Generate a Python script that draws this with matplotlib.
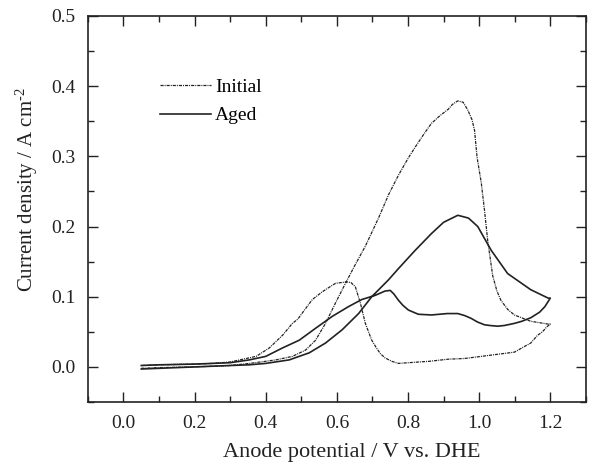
import matplotlib
matplotlib.use("Agg")
import matplotlib.pyplot as plt
from matplotlib.ticker import MultipleLocator

# ---- data ----
init_fwd_x = [0.05, 0.10, 0.20, 0.30, 0.354, 0.40, 0.428, 0.475, 0.512, 0.540, 0.568, 0.596, 0.624,
              0.652, 0.680, 0.717, 0.745, 0.773, 0.800, 0.820, 0.845, 0.866, 0.890, 0.913, 0.925, 0.940,
              0.955, 0.968, 0.980, 0.987, 0.994, 1.006, 1.015, 1.024, 1.038, 1.050, 1.061, 1.080, 1.099,
              1.145, 1.194, 1.20]
init_fwd_y = [-0.002, -0.001, 0.000, 0.002, 0.005, 0.008, 0.010, 0.015, 0.024, 0.038, 0.062, 0.091, 0.119,
              0.146, 0.172, 0.212, 0.245, 0.273, 0.297, 0.313, 0.332, 0.347, 0.358, 0.367, 0.374, 0.379,
              0.377, 0.366, 0.352, 0.337, 0.299, 0.262, 0.223, 0.180, 0.130, 0.108, 0.095, 0.082, 0.074,
              0.065, 0.061, 0.061]
init_rev_x = [1.20, 1.190, 1.178, 1.164, 1.145, 1.127, 1.099, 1.052, 1.006, 0.959, 0.913, 0.860, 0.801,
              0.773, 0.754, 0.735, 0.722, 0.710, 0.698, 0.689, 0.680, 0.666, 0.652, 0.640, 0.629, 0.610,
              0.596, 0.580, 0.559, 0.531, 0.503, 0.490, 0.475, 0.447, 0.410, 0.373, 0.345, 0.30, 0.25,
              0.20, 0.10, 0.05]
init_rev_y = [0.061, 0.057, 0.050, 0.045, 0.034, 0.029, 0.021, 0.018, 0.015, 0.012, 0.011, 0.008, 0.006,
              0.005, 0.008, 0.013, 0.019, 0.028, 0.038, 0.050, 0.062, 0.091, 0.114, 0.120, 0.121, 0.120,
              0.119, 0.114, 0.107, 0.096, 0.077, 0.068, 0.062, 0.045, 0.027, 0.015, 0.012, 0.007, 0.005,
              0.004, 0.003, 0.002]

aged_fwd_x = [0.05, 0.10, 0.20, 0.30, 0.354, 0.40, 0.466, 0.522, 0.568, 0.615, 0.661, 0.698, 0.745,
              0.773, 0.82, 0.866, 0.90, 0.940, 0.970, 0.996, 1.034, 1.080, 1.145, 1.194, 1.20]
aged_fwd_y = [-0.003, -0.002, 0.000, 0.002, 0.003, 0.005, 0.010, 0.020, 0.034, 0.053, 0.076, 0.100, 0.124,
              0.140, 0.166, 0.190, 0.206, 0.216, 0.212, 0.200, 0.166, 0.133, 0.110, 0.098, 0.098]
aged_rev_x = [1.20, 1.185, 1.170, 1.145, 1.120, 1.099, 1.071, 1.052, 1.030, 1.015, 0.995, 0.978, 0.960,
              0.940, 0.910, 0.866, 0.829, 0.801, 0.785, 0.773, 0.760, 0.750, 0.735, 0.708, 0.670, 0.633,
              0.587, 0.540, 0.494, 0.447, 0.40, 0.354, 0.30, 0.20, 0.10, 0.05]
aged_rev_y = [0.098, 0.086, 0.078, 0.070, 0.065, 0.062, 0.059, 0.058, 0.059, 0.060, 0.064, 0.069, 0.073,
              0.076, 0.076, 0.074, 0.075, 0.081, 0.088, 0.095, 0.104, 0.109, 0.108, 0.102, 0.096, 0.086,
              0.072, 0.055, 0.038, 0.027, 0.015, 0.010, 0.006, 0.004, 0.003, 0.002]

series_labels = ["Initial", "Aged"]
xlabel = "Anode potential / V vs. DHE"
ylabel = r"Current density / A cm$^{\text{-2}}$"
xtick_vals = [0.0, 0.2, 0.4, 0.6, 0.8, 1.0, 1.2]
ytick_vals = [0.0, 0.1, 0.2, 0.3, 0.4, 0.5]

plt.rcParams['font.family'] = ['Liberation Serif', 'DejaVu Serif']
plt.rcParams['mathtext.fontset'] = 'custom'
plt.rcParams['mathtext.rm'] = 'Liberation Serif'
plt.rcParams['mathtext.it'] = 'Liberation Serif:italic'

fig = plt.figure(figsize=(5.9, 4.68), dpi=100)
ax = fig.add_axes([0.149, 0.141, 0.844, 0.825])

ax.plot(init_fwd_x + init_rev_x, init_fwd_y + init_rev_y, color='#222222', lw=0.9,
        linestyle=(0, (2.5, 0.8, 0.8, 0.8)), label=series_labels[0])
ax.plot(aged_fwd_x + aged_rev_x, aged_fwd_y + aged_rev_y, color='#222222', lw=1.2,
        linestyle='-', label=series_labels[1])

ax.set_xlim(-0.1, 1.3)
ax.set_ylim(-0.05, 0.5)
ax.xaxis.set_minor_locator(MultipleLocator(0.1))
ax.yaxis.set_minor_locator(MultipleLocator(0.05))
ax.set_xticks(xtick_vals)
ax.set_yticks(ytick_vals)
ax.xaxis.set_major_formatter(plt.FuncFormatter(lambda v, p: f"{v:.1f}"))
ax.yaxis.set_major_formatter(plt.FuncFormatter(lambda v, p: f"{v:.1f}"))

ax.tick_params(which='both', direction='in', top=True, right=True, labelsize=14, width=1.0, colors='#222222')
ax.tick_params(which='major', length=7, pad=9)
ax.tick_params(which='minor', length=4)
for s in ax.spines.values():
    s.set_linewidth(1.2)
    s.set_color('#222222')

ax.set_xlabel(xlabel, fontsize=16, color='#222222')
ax.set_ylabel(ylabel, fontsize=15, color='#222222')
ax.xaxis.set_label_coords(0.53, -0.105)
ax.yaxis.set_label_coords(-0.097, 0.549)

ax.legend(loc='upper left', bbox_to_anchor=(0.13, 0.858), frameon=False, fontsize=14,
          handlelength=2.6, handletextpad=0.2, labelspacing=0.55, borderaxespad=0)

fig.savefig("out.png", dpi=100)
